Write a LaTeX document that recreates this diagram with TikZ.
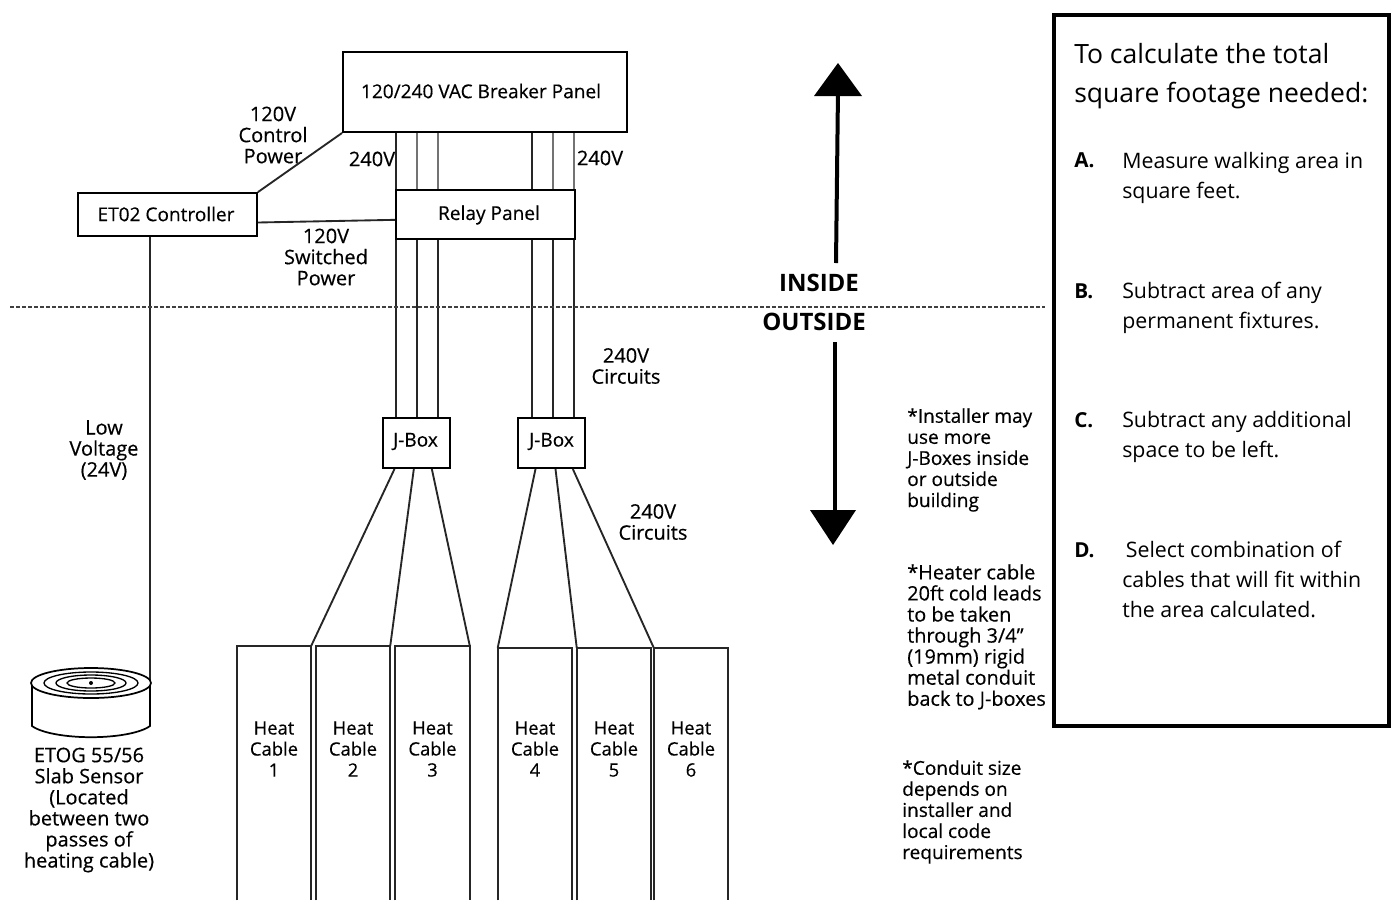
\documentclass[tikz,border=0pt]{standalone}
\usepackage{fontspec}
\setmainfont{Open Sans}
\newfontfamily\diagfont{Open Sans}[FakeBold=0.4]
\definecolor{wiregray}{gray}{0.45}
\tikzset{
  panelbox/.style = {draw, line width=1.5pt, align=center, inner sep=0pt, font=\diagfont\fontsize{14.3}{15}\selectfont},
  paneltext/.style = {inner sep=0pt, font=\diagfont\fontsize{14.3}{15}\selectfont},
  wire/.style = {line width=1.4pt, black!85},
  graywire/.style = {line width=1.6pt, wiregray},
  note/.style = {align=center, inner sep=0pt, font=\diagfont\fontsize{15}{15.8}\selectfont},
  heatnote/.style = {align=center, inner sep=0pt, font=\diagfont\fontsize{13.8}{15.8}\selectfont},
  sidenote/.style = {align=left, inner sep=0pt, anchor=north west, font=\diagfont\fontsize{14.3}{15.8}\selectfont},
  bignote/.style = {inner sep=0pt, font=\bfseries\fontsize{18}{20}\selectfont},
  steptext/.style = {align=left, inner sep=0pt, anchor=north west, font=\fontsize{16}{22.5}\selectfont},
  stepmark/.style = {inner sep=0pt, anchor=north west, font=\bfseries\fontsize{15.5}{22.5}\selectfont}
}
\begin{document}
\begin{tikzpicture}[x=0.75pt,y=-0.75pt]
  \useasboundingbox (0,0) rectangle (1391,900);
  % panels
  \node [panelbox, minimum width=213pt, minimum height=60pt] (breaker) at (485,92) {};
  \node [paneltext] (breakertext) at (481,91) {120/240 VAC Breaker Panel};
  \node [panelbox, minimum width=134pt, minimum height=37pt] (relay) at (485.5,214.5) {};
  \node [paneltext] (relaytext) at (489,215) {Relay Panel};
  \node [panelbox, minimum width=134pt, minimum height=32pt] (controller) at (167.5,214.5) {};
  \node [paneltext] (controllertext) at (166,214) {ET02 Controller};
  \node [panelbox, minimum width=50pt, minimum height=37.5pt] (jboxa) at (416.5,443) {};
  \node [paneltext] (jboxatext) at (415.5,441.5) {J-Box};
  \node [panelbox, minimum width=50pt, minimum height=37.5pt] (jboxb) at (551.5,443) {};
  \node [paneltext] (jboxbtext) at (551.5,441.5) {J-Box};
  % wire positions
  \coordinate (wa) at (396,0); \coordinate (wb) at (417,0); \coordinate (wc) at (438,0);
  \coordinate (wd) at (532,0); \coordinate (we) at (553,0); \coordinate (wf) at (574,0);
  \foreach \w in {wa,wd} \draw [wire] (\w |- breaker.south) -- (\w |- relay.north);
  \foreach \w in {wb,wc,we,wf} \draw [graywire] (\w |- breaker.south) -- (\w |- relay.north);
  \foreach \w in {wa,wb,wc} \draw [wire] (\w |- relay.south) -- (\w |- jboxa.north);
  \foreach \w in {wd,we,wf} \draw [wire] (\w |- relay.south) -- (\w |- jboxb.north);
  % controller links
  \draw [wire] (controller.north east) -- (breaker.south west);
  \draw [wire] ([yshift=-6pt]controller.east) -- ([yshift=-4pt]relay.west);
  \coordinate (sensortop) at (150,680);
  \draw [wire] (sensortop |- controller.south) -- (sensortop);
  % heat cables
  \foreach \name/\xc/\top/\num in {cablea/274/646/1, cableb/353/646/2, cablec/432.5/646/3, cabled/535/648/4, cablee/614/648/5, cablef/691/648/6} {
    \node [minimum width=55.5pt, inner sep=0pt] (\name) at (\xc,{(\top+900)/2}) [minimum height={(900-\top)*0.75pt}] {};
    \draw [wire] (\name.south west) -- (\name.north west) -- (\name.north east) -- (\name.south east);
    \node [heatnote] (\name text) at (\xc,749) {Heat\\Cable\\\num};
  }
  % fan out
  \draw [wire] ([xshift=-16.5pt]jboxa.south) -- (cablea.north east);
  \draw [wire] ([xshift=-2pt]jboxa.south) -- (cableb.north east);
  \draw [wire] ([xshift=11.5pt]jboxa.south) -- (cablec.north east);
  \draw [wire] ([xshift=-12pt]jboxb.south) -- (cabled.north west);
  \draw [wire] ([xshift=3pt]jboxb.south) -- (cablee.north west);
  \draw [wire] ([xshift=16pt]jboxb.south) -- (cablef.north west);
  % sensor
  \draw [line width=1.3pt, fill=white] (32,683) -- (32,726) arc [start angle=160, end angle=20, x radius=62.8, y radius=17] -- (150,683);
  \draw [line width=1.3pt, fill=white] (91,683) ellipse [x radius=60, y radius=15];
  \foreach \rx/\ry in {47/11, 35/8, 24/5} \draw [line width=1pt] (91,683) ellipse [x radius=\rx, y radius=\ry];
  \fill (91,683) circle [radius=2];
  \node [note] (sensortext) at (89,810) {ETOG 55/56\\Slab Sensor\\(Located\\between two\\passes of\\heating cable)};
  % labels
  \node [note] (ctrlpower) at (273,135) {120V\\Control\\Power};
  \node [note] (switched) at (326,257) {120V\\Switched\\Power};
  \node [note] (lowvolt) at (104,450) {Low\\Voltage\\(24V)};
  \node [note] (leftv) at (372,159) {240V};
  \node [note] (rightv) at (600,158) {240V};
  \node [note] (circuitsa) at (626,366) {240V\\Circuits};
  \node [note] (circuitsb) at (653,522) {240V\\Circuits};
  \node [sidenote] (notea) at (907,408) {*Installer may\\use more\\J-Boxes inside\\or outside\\building};
  \node [sidenote, font=\diagfont\fontsize{14.9}{15.8}\selectfont] (noteb) at (907,564) {*Heater cable\\20ft cold leads\\to be taken\\through 3/4”\\(19mm) rigid\\metal conduit\\back to J-boxes};
  \node [sidenote] (notec) at (902,760) {*Conduit size\\depends on\\installer and\\local code\\requirements};
  % inside outside
  \coordinate (dashl) at (10,307); \coordinate (dashr) at (1045,307);
  \draw [line width=2pt, dash pattern=on 3pt off 1.5pt, black!75] (dashl) -- (dashr);
  \node [bignote] (inside) at (819,283) {INSIDE};
  \node [bignote] (outside) at (814,322) {OUTSIDE};
  \coordinate (upstart) at (836,263); \coordinate (uptip) at (838,63);
  \coordinate (downstart) at (835,342); \coordinate (downtip) at (833,545);
  \draw [line width=3pt] (upstart) -- (838,90);
  \fill (uptip) -- (862,96) -- (814,96) -- cycle;
  \draw [line width=3pt] (downstart) -- (835,515);
  \fill (downtip) -- (856,510) -- (810,510) -- cycle;
  % instructions
  \node [draw, line width=3pt, minimum width=251pt, minimum height=533pt, inner sep=0pt, outer sep=0pt] (infobox) at (1221.5,370.5) {};
  \node [inner sep=0pt, anchor=north west, align=left, font=\fontsize{19.9}{29}\selectfont] (infohead) at (1074,43) {To calculate the total\\square footage needed:};
  \node [stepmark] (marka) at (1074,152) {A.};
  \node [steptext] (stepa) at (1122,152) {Measure walking area in\\square feet.};
  \node [stepmark] (markb) at (1074,283) {B.};
  \node [steptext] (stepb) at (1122,282) {Subtract area of any\\permanent fixtures.};
  \node [stepmark] (markc) at (1074,412) {C.};
  \node [steptext] (stepc) at (1122,411) {Subtract any additional\\space to be left.};
  \node [stepmark] (markd) at (1074,542) {D.};
  \node [steptext] (stepd) at (1122,541) {\,Select combination of\\cables that will fit within\\the area calculated.};
\end{tikzpicture}
\end{document}
